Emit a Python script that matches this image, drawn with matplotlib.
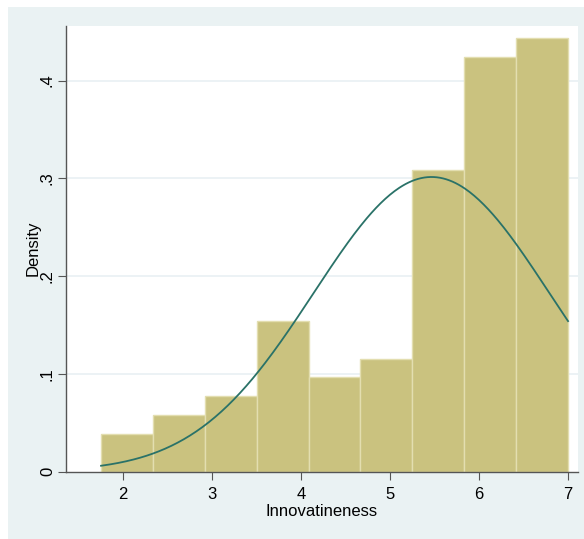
import numpy as np
import matplotlib as mpl
import matplotlib.pyplot as plt
from matplotlib.patches import Rectangle

mpl.rcParams['font.family'] = ['Liberation Sans', 'DejaVu Sans']

# histogram of Innovatineness (9 bins from 1.75 to 7), counts per bin
bin_start = 1.75
bin_end = 7.0
counts = [2, 3, 4, 8, 5, 6, 16, 22, 23]
# normal overlay parameters
mu = 5.465
sigma = 1.324
xticks = [2, 3, 4, 5, 6, 7]
yticks = [0, 0.1, 0.2, 0.3, 0.4]
yticklabels = ['0', '.1', '.2', '.3', '.4']

W, H = 584, 539
fig = plt.figure(figsize=(W / 100, H / 100), dpi=100)
fig.patch.set_facecolor('white')
fig.add_artist(Rectangle((8 / W, 0), 1, (H - 7) / H, transform=fig.transFigure,
                         facecolor='#eaf2f3', edgecolor='none', zorder=-10))

ax = fig.add_axes([66 / W, (H - 471.5) / H, (578 - 66) / W, (471.5 - 26) / H])
ax.set_facecolor('white')

nbins = len(counts)
edges = np.linspace(bin_start, bin_end, nbins + 1)
width = edges[1] - edges[0]
dens = np.array(counts) / (sum(counts) * width)
ax.bar(edges[:-1], dens, width=width, align='edge', color='#cac27f',
       edgecolor='#e3deb0', linewidth=1, zorder=2)

xs = np.linspace(bin_start, bin_end, 300)
pdf = np.exp(-0.5 * ((xs - mu) / sigma) ** 2) / (sigma * np.sqrt(2 * np.pi))
ax.plot(xs, pdf, color='#2a7268', lw=1.3, zorder=3)

ax.set_xlim(1.356, 7.112)
ax.set_ylim(0, 0.4558)
ax.set_yticks(yticks)
ax.set_yticklabels(yticklabels, rotation=90, va='center')
ax.set_xticks(xticks)
for y in yticks[1:]:
    ax.axhline(y, color='#e9f0f4', lw=1.2, zorder=1)

for s in ['top', 'right']:
    ax.spines[s].set_visible(False)
for s in ['left', 'bottom']:
    ax.spines[s].set_color('#555555')
    ax.spines[s].set_linewidth(1.0)
ax.tick_params(axis='both', direction='out', length=6, color='#555555',
               labelsize=12)
ax.tick_params(axis='y', pad=2)
ax.tick_params(axis='x', pad=5)
ax.set_ylabel('Density', fontsize=12)
ax.yaxis.set_label_coords((33 - 66) / 512, 0.5)
ax.set_xlabel('Innovatineness', fontsize=12)
ax.xaxis.set_label_coords(0.5, -(512 - 471.5) / 445.5)
ax.xaxis.label.set_va('center')
ax.yaxis.label.set_va('center')

fig.savefig('out.png', dpi=100, facecolor=fig.get_facecolor())
